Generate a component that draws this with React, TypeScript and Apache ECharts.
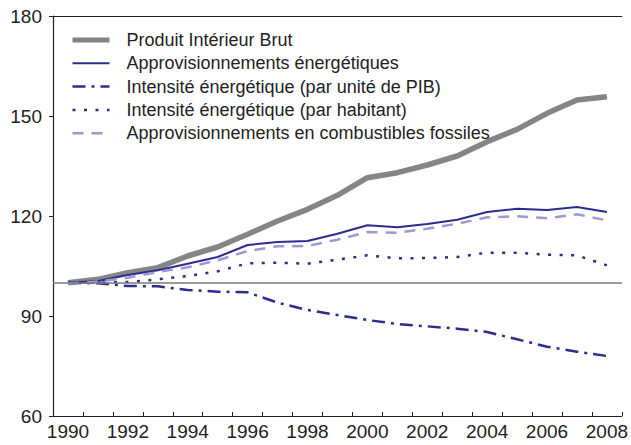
import React, { useEffect, useRef } from "react";
import * as echarts from "echarts";

const years = ["1990","1991","1992","1993","1994","1995","1996","1997","1998","1999","2000","2001","2002","2003","2004","2005","2006","2007","2008"];
const pib = [100, 101, 103, 104.5, 108, 110.7, 114.5, 118.5, 122, 126.2, 131.5, 133, 135.3, 138, 142.3, 146, 150.8, 154.8, 155.8];
const approv = [100, 100.5, 102.3, 103.7, 105.7, 107.7, 111.3, 112.2, 112.5, 114.7, 117.2, 116.6, 117.6, 118.9, 121.2, 122.2, 121.8, 122.7, 121.2];
const intensitePib = [100, 99.8, 99, 98.9, 97.8, 97.3, 97.1, 94, 91.8, 90.3, 88.8, 87.6, 86.9, 86.2, 85.2, 83, 80.8, 79.3, 78];
const intensiteHab = [100, 100, 100.2, 101, 102, 103.4, 105.8, 106, 105.7, 106.9, 108.2, 107.3, 107.4, 107.7, 109, 109, 108.4, 108.2, 105.2];
const fossiles = [99.8, 100.3, 101.5, 103.2, 104.6, 106.7, 109.5, 110.9, 111, 112.9, 115.2, 115, 116.2, 117.7, 119.6, 119.9, 119.3, 120.5, 118.7];
const seriesNames = [
  "Produit Intérieur Brut",
  "Approvisionnements énergétiques",
  "Intensité énergétique (par unité de PIB)",
  "Intensité énergétique (par habitant)",
  "Approvisionnements en combustibles fossiles",
];
const yTicks = { min: 60, max: 180, interval: 30 };
const baseline = 100;

const FONT = "Liberation Sans, Arial, sans-serif";
const NAVY = "#2b2d8e";
const GREY = "#858585";
const LILAC = "#9c9ad0";

const styles = [
  { color: GREY, width: 5, type: "solid" as any },
  { color: NAVY, width: 2, type: "solid" as any },
  { color: NAVY, width: 2.5, type: [13, 6, 3, 6] },
  { color: NAVY, width: 2.5, type: [3, 8.5] },
  { color: LILAC, width: 2.5, type: [11, 8] },
];

export default function App() {
  const ref = useRef<HTMLDivElement>(null);
  useEffect(() => {
    if (!ref.current) return;
    const chart = echarts.init(ref.current, undefined, { renderer: "svg" });
    chart.setOption({
      animation: false,
      textStyle: { fontFamily: FONT },
      grid: { left: 53, right: 8, top: 16, bottom: 29, containLabel: false },
      legend: {
        orient: "vertical",
        left: 65,
        top: 26,
        itemWidth: 37,
        itemHeight: 14,
        itemGap: 5.3,
        itemStyle: { opacity: 0 },
        textStyle: { fontFamily: FONT, fontSize: 18, color: "#222", padding: [0, 0, 0, 12] },
        data: seriesNames.map((n, i) => ({
          name: n,
          lineStyle: { color: styles[i].color, width: styles[i].width, type: styles[i].type },
        })),
      },
      xAxis: [
        {
          type: "category",
          data: years,
          boundaryGap: true,
          axisLine: { lineStyle: { color: "#222", width: 1.2 } },
          axisTick: { show: true, interval: 0, inside: true, length: 4, lineStyle: { color: "#222" } },
          axisLabel: { interval: 1, fontSize: 19, color: "#222", margin: 6, fontFamily: FONT },
          splitLine: { show: false },
        },
        {
          type: "category",
          data: years,
          position: "top",
          axisLine: { lineStyle: { color: "#222", width: 1.2 } },
          axisTick: { show: false },
          axisLabel: { show: false },
          splitLine: { show: false },
        },
      ],
      yAxis: {
        type: "value",
        min: yTicks.min,
        max: yTicks.max,
        interval: yTicks.interval,
        axisLine: { show: true, lineStyle: { color: "#222", width: 1.2 } },
        axisTick: { show: true, length: 4, lineStyle: { color: "#222" } },
        axisLabel: { fontSize: 19, color: "#222", margin: 11, fontFamily: FONT },
        splitLine: { show: false },
      },
      series: [
        {
          name: seriesNames[0],
          type: "line",
          data: pib,
          symbol: "none",
          lineStyle: { color: GREY, width: 5.5 },
          itemStyle: { color: GREY },
          z: 3,
          markLine: {
            silent: true,
            symbol: "none",
            label: { show: false },
            lineStyle: { color: "#7a7a7a", width: 1.5, type: "solid" },
            data: [{ yAxis: baseline }],
          },
        },
        {
          name: seriesNames[1],
          type: "line",
          data: approv,
          symbol: "none",
          lineStyle: { color: NAVY, width: 2 },
          itemStyle: { color: NAVY },
          z: 4,
        },
        {
          name: seriesNames[2],
          type: "line",
          data: intensitePib,
          symbol: "none",
          lineStyle: { color: NAVY, width: 2.5, type: styles[2].type },
          itemStyle: { color: NAVY },
          z: 4,
        },
        {
          name: seriesNames[3],
          type: "line",
          data: intensiteHab,
          symbol: "none",
          lineStyle: { color: NAVY, width: 2.5, type: styles[3].type },
          itemStyle: { color: NAVY },
          z: 4,
        },
        {
          name: seriesNames[4],
          type: "line",
          data: fossiles,
          symbol: "none",
          lineStyle: { color: LILAC, width: 2.5, type: styles[4].type },
          itemStyle: { color: LILAC },
          z: 4,
        },
      ],
    });
    return () => chart.dispose();
  }, []);
  return (
    <div
      ref={ref}
      style={{ position: "fixed", left: 0, top: 0, width: 631, height: 445, background: "#fff" }}
    />
  );
}
